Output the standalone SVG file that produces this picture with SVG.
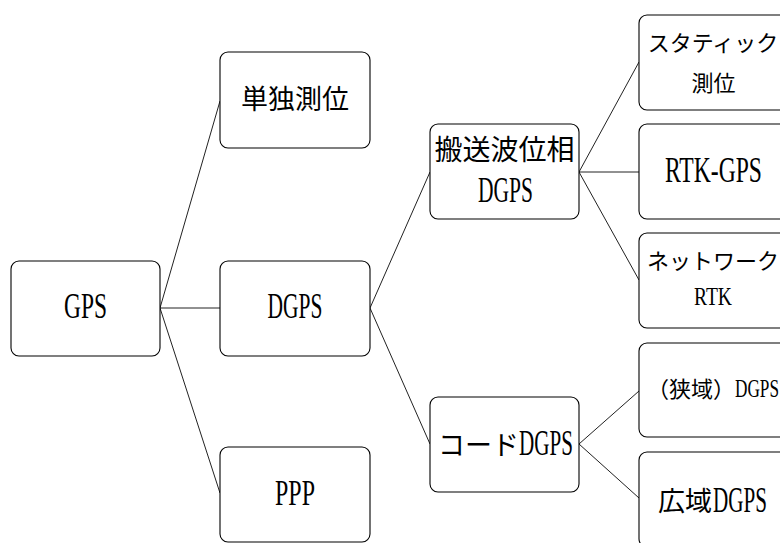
<svg xmlns="http://www.w3.org/2000/svg" width="780" height="543" viewBox="0 0 780 543">
<style>
.box{fill:#fff;stroke:#000;stroke-width:1.1}
.cn{stroke:#222;stroke-width:1;fill:none}
.t{font-family:"Noto Sans CJK JP","Liberation Serif",serif;font-size:27px;fill:#000}
.s{font-size:22px}
.l{font-family:"Liberation Serif",serif;font-size:35px}
.ls{font-family:"Liberation Serif",serif;font-size:26px}
</style>
<rect width="780" height="543" fill="#fff"/>
<g id="connectors">
<line class="cn" x1="160" y1="308" x2="220" y2="101"/>
<line class="cn" x1="160" y1="308" x2="220" y2="308"/>
<line class="cn" x1="160" y1="308" x2="220" y2="493"/>
<line class="cn" x1="370" y1="308" x2="430" y2="172"/>
<line class="cn" x1="370" y1="308" x2="430" y2="444"/>
<line class="cn" x1="579" y1="172" x2="639" y2="62"/>
<line class="cn" x1="579" y1="172" x2="639" y2="172"/>
<line class="cn" x1="579" y1="172" x2="639" y2="280"/>
<line class="cn" x1="579" y1="444" x2="639" y2="391"/>
<line class="cn" x1="579" y1="444" x2="639" y2="498"/>
</g>
<g id="gps">
<rect class="box" x="11" y="261" width="149" height="95" rx="8"/>
<text class="t l" x="85.5" y="318" text-anchor="middle" textLength="43" lengthAdjust="spacingAndGlyphs">GPS</text>
</g>
<g id="single">
<rect class="box" x="220" y="52" width="150" height="96" rx="8"/>
<text class="t" x="295" y="109" text-anchor="middle">単独測位</text>
</g>
<g id="dgps">
<rect class="box" x="220" y="261" width="150" height="95" rx="8"/>
<text class="t l" x="295" y="318" text-anchor="middle" textLength="55" lengthAdjust="spacingAndGlyphs">DGPS</text>
</g>
<g id="ppp">
<rect class="box" x="220" y="447" width="150" height="95" rx="8"/>
<text class="t l" x="295" y="505" text-anchor="middle" textLength="40" lengthAdjust="spacingAndGlyphs">PPP</text>
</g>
<g id="carrier">
<rect class="box" x="430" y="124" width="149" height="95" rx="8"/>
<text class="t" x="504.5" y="160" text-anchor="middle" style="font-size:28px">搬送波位相</text>
<text class="t l" x="505.5" y="202" text-anchor="middle" textLength="55" lengthAdjust="spacingAndGlyphs">DGPS</text>
</g>
<g id="code">
<rect class="box" x="430" y="397" width="149" height="95" rx="8"/>
<text class="t" x="438" y="455">コード<tspan class="l" x="519" textLength="54" lengthAdjust="spacingAndGlyphs">DGPS</tspan></text>
</g>
<g id="static">
<rect class="box" x="639" y="15" width="150" height="95" rx="8"/>
<text class="t s" x="713" y="51" text-anchor="middle">スタティック</text>
<text class="t s" x="713.5" y="91" text-anchor="middle">測位</text>
</g>
<g id="rtk">
<rect class="box" x="639" y="124" width="150" height="95" rx="8"/>
<text class="t l" x="713.5" y="182" text-anchor="middle" textLength="97" lengthAdjust="spacingAndGlyphs">RTK-GPS</text>
</g>
<g id="network">
<rect class="box" x="639" y="233" width="150" height="95" rx="8"/>
<text class="t s" x="713" y="269" text-anchor="middle">ネットワーク</text>
<text class="t ls" x="713" y="305" text-anchor="middle" textLength="38" lengthAdjust="spacingAndGlyphs">RTK</text>
</g>
<g id="narrow">
<rect class="box" x="639" y="343" width="150" height="94" rx="8"/>
<text class="t s" x="647" y="397">（狭域）<tspan class="ls" x="735" textLength="44" lengthAdjust="spacingAndGlyphs">DGPS</tspan></text>
</g>
<g id="wide">
<rect class="box" x="639" y="452" width="150" height="95" rx="8"/>
<text class="t" x="658" y="511">広域<tspan class="l" x="713" y="512" textLength="54" lengthAdjust="spacingAndGlyphs">DGPS</tspan></text>
</g>
</svg>
